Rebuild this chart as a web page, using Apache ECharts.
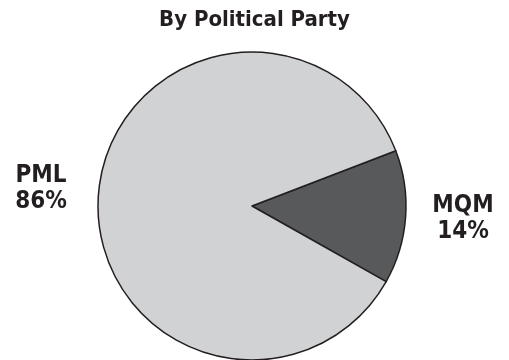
<!DOCTYPE html>
<html><head><meta charset="utf-8">
<script src="https://cdn.jsdelivr.net/npm/echarts@6/dist/echarts.min.js"></script>
<style>html,body{margin:0;padding:0;background:#fff}#c{width:509px;height:360px}</style>
</head><body><div id="c"></div>
<script>
const categories = ["MQM", "PML"];
const values = [14, 86];
const colors = ["#58595b", "#d1d2d4"];
const labelPos = [[463, 219], [41, 189]];
const FONT = '"DejaVu Sans Condensed", "Liberation Sans Narrow", "Liberation Sans", sans-serif';

const chart = echarts.init(document.getElementById('c'), null, {renderer: 'canvas'});
chart.setOption({
  animation: false,
  title: {
    text: 'By Political Party', left: 'center', top: 4,
    textStyle: {fontFamily: FONT, fontWeight: 'bold', fontSize: 22, color: '#231f20'}
  },
  series: [{
    type: 'pie',
    center: [252, 206],
    radius: 154,
    startAngle: 21,
    clockwise: true,
    data: categories.map((c, i) => ({name: c, value: values[i], itemStyle: {color: colors[i]}})),
    itemStyle: {borderColor: '#231f20', borderWidth: 1.5},
    label: {
      show: true, position: 'outside', overflow: 'none', width: 120,
      formatter: p => p.name + '\n' + p.value + '%',
      fontFamily: FONT, fontWeight: 'bold', fontSize: 24, lineHeight: 26, color: '#231f20', align: 'center'
    },
    labelLine: {show: false},
    labelLayout: p => ({x: labelPos[p.dataIndex][0], y: labelPos[p.dataIndex][1], align: 'center', verticalAlign: 'middle'}),
    emphasis: {disabled: true}
  }]
});
</script></body></html>
